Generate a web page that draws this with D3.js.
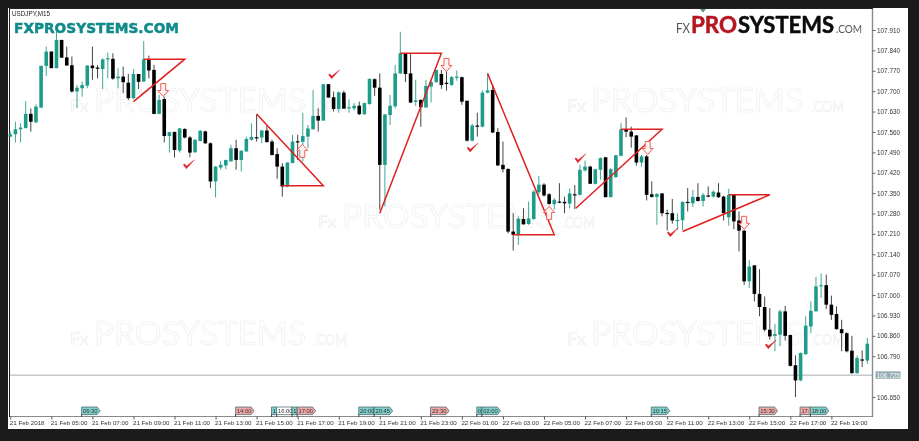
<!DOCTYPE html>
<html><head><meta charset="utf-8">
<script src="https://cdn.jsdelivr.net/npm/d3@7"></script>
<style>
html,body{margin:0;padding:0;background:#1b1b1b;width:919px;height:441px;overflow:hidden}
svg{display:block;filter:blur(0.3px)}
</style></head><body><svg id="c" width="919" height="441"></svg>
<script>
const opens=[107.544,107.552,107.569,107.573,107.622,107.593,107.644,107.787,107.836,107.779,
107.876,107.816,107.789,107.699,107.710,107.719,107.788,107.781,107.776,107.809,
107.811,107.744,107.750,107.729,107.676,107.759,107.733,107.807,107.773,107.622,
107.673,107.546,107.560,107.496,107.570,107.541,107.490,107.529,107.562,107.521,
107.390,107.438,107.445,107.459,107.504,107.464,107.493,107.533,107.542,107.541,
107.565,107.527,107.484,107.441,107.373,107.453,107.528,107.526,107.544,107.569,
107.615,107.599,107.724,107.679,107.639,107.695,107.641,107.641,107.650,107.621,
107.656,107.741,107.712,107.447,107.618,107.648,107.761,107.828,107.761,107.663,
107.670,107.644,107.716,107.731,107.759,107.729,107.721,107.747,107.748,107.667,
107.530,107.582,107.578,107.695,107.704,107.560,107.447,107.433,107.218,107.207,
107.261,107.244,107.261,107.353,107.379,107.346,107.312,107.321,107.320,107.314,
107.346,107.344,107.428,107.441,107.382,107.430,107.473,107.336,107.405,107.478,
107.569,107.561,107.548,107.455,107.476,107.346,107.337,107.349,107.282,107.281,
107.256,107.257,107.320,107.315,107.337,107.323,107.342,107.338,107.352,107.338,
107.267,107.344,107.256,107.221,107.047,107.102,107.004,106.959,106.881,106.860,
106.864,106.944,106.863,106.759,106.707,106.797,106.892,106.944,107.030,107.034,
106.967,106.935,106.883,106.869,106.809,106.732,106.779,106.775];
const closes=[107.552,107.569,107.575,107.622,107.595,107.647,107.787,107.836,107.779,107.876,
107.815,107.788,107.699,107.712,107.721,107.788,107.779,107.780,107.809,107.813,
107.743,107.750,107.731,107.676,107.759,107.732,107.809,107.771,107.622,107.670,
107.546,107.559,107.498,107.572,107.541,107.489,107.533,107.564,107.521,107.390,
107.441,107.447,107.464,107.504,107.464,107.495,107.536,107.543,107.541,107.565,
107.525,107.481,107.441,107.373,107.455,107.527,107.526,107.546,107.572,107.615,
107.599,107.724,107.678,107.639,107.696,107.640,107.645,107.650,107.621,107.659,
107.742,107.712,107.447,107.620,107.650,107.761,107.830,107.759,107.661,107.668,
107.645,107.718,107.731,107.773,107.721,107.727,107.748,107.750,107.664,107.530,
107.582,107.580,107.695,107.703,107.558,107.445,107.432,107.218,107.207,107.262,
107.243,107.263,107.355,107.379,107.342,107.313,107.327,107.319,107.315,107.349,
107.344,107.430,107.441,107.382,107.432,107.470,107.336,107.432,107.480,107.569,
107.561,107.544,107.455,107.476,107.344,107.337,107.347,107.281,107.280,107.256,
107.258,107.320,107.318,107.337,107.323,107.344,107.338,107.355,107.336,107.281,
107.344,107.253,107.221,107.047,107.098,107.004,106.959,106.881,106.858,106.866,
106.944,106.860,106.757,106.707,106.801,106.895,106.946,107.030,107.034,106.967,
106.932,106.883,106.869,106.807,106.732,106.784,106.776,106.833];
const highs=[107.561,107.595,107.590,107.666,107.641,107.655,107.787,107.853,107.836,107.904,
107.876,107.853,107.819,107.721,107.733,107.788,107.853,107.790,107.813,107.832,
107.830,107.779,107.784,107.759,107.776,107.759,107.872,107.822,107.790,107.687,
107.681,107.561,107.561,107.574,107.573,107.546,107.535,107.567,107.564,107.524,
107.443,107.461,107.464,107.516,107.533,107.498,107.544,107.590,107.621,107.567,
107.581,107.533,107.504,107.453,107.456,107.550,107.550,107.626,107.584,107.704,
107.641,107.724,107.724,107.699,107.699,107.702,107.672,107.659,107.664,107.661,
107.744,107.744,107.761,107.622,107.687,107.790,107.904,107.830,107.830,107.739,
107.672,107.739,107.741,107.773,107.773,107.773,107.752,107.771,107.750,107.667,
107.588,107.626,107.702,107.761,107.721,107.573,107.527,107.435,107.281,107.270,
107.298,107.321,107.361,107.409,107.384,107.350,107.333,107.384,107.338,107.367,
107.378,107.447,107.462,107.444,107.433,107.473,107.473,107.436,107.481,107.590,
107.610,107.578,107.550,107.481,107.481,107.390,107.350,107.350,107.293,107.330,
107.281,107.321,107.367,107.361,107.384,107.350,107.373,107.359,107.384,107.341,
107.365,107.346,107.287,107.224,107.121,107.102,107.089,106.995,106.955,106.901,
106.950,106.963,106.864,106.793,106.803,106.927,106.978,107.062,107.075,107.070,
106.998,106.961,106.915,106.872,106.860,106.792,106.810,106.853];
const lows=[107.542,107.524,107.524,107.573,107.561,107.590,107.641,107.752,107.779,107.779,
107.815,107.788,107.695,107.641,107.681,107.710,107.739,107.744,107.707,107.744,
107.739,107.710,107.693,107.670,107.672,107.707,107.733,107.744,107.621,107.621,
107.524,107.489,107.472,107.489,107.538,107.473,107.489,107.527,107.519,107.367,
107.335,107.430,107.432,107.458,107.430,107.424,107.493,107.530,107.527,107.521,
107.524,107.479,107.399,107.338,107.370,107.453,107.464,107.458,107.504,107.569,
107.561,107.599,107.678,107.630,107.626,107.640,107.626,107.633,107.618,107.618,
107.653,107.684,107.293,107.304,107.584,107.641,107.759,107.731,107.659,107.649,
107.578,107.644,107.661,107.729,107.708,107.702,107.719,107.736,107.653,107.527,
107.527,107.544,107.576,107.693,107.556,107.443,107.421,107.212,107.153,107.172,
107.241,107.241,107.258,107.344,107.338,107.310,107.293,107.315,107.281,107.298,
107.295,107.342,107.424,107.382,107.380,107.396,107.336,107.336,107.402,107.476,
107.542,107.506,107.444,107.441,107.325,107.335,107.241,107.270,107.222,107.245,
107.224,107.224,107.287,107.302,107.321,107.304,107.336,107.335,107.333,107.256,
107.238,107.226,107.150,107.035,107.024,106.978,106.927,106.875,106.847,106.807,
106.824,106.844,106.755,106.650,106.704,106.795,106.869,106.944,106.990,106.952,
106.915,106.881,106.807,106.803,106.730,106.730,106.753,106.764];

const priceTicks=[107.91,107.84,107.77,107.70,107.63,107.56,107.49,107.42,107.35,107.28,107.21,107.14,107.07,107.00,106.93,106.86,106.79,106.65];
const bidPrice=106.725;
const timeTickIdx=[0,8,16,24,32,40,48,56,64,72,80,88,96,104,112,120,128,136,144,152,160];
const timeTickLabels=["21 Feb 2018","21 Feb 05:00","21 Feb 07:00","21 Feb 09:00","21 Feb 11:00","21 Feb 13:00","21 Feb 15:00","21 Feb 17:00","21 Feb 19:00","21 Feb 21:00","21 Feb 23:00","22 Feb 01:00","22 Feb 03:00","22 Feb 05:00","22 Feb 07:00","22 Feb 09:00","22 Feb 11:00","22 Feb 13:00","22 Feb 15:00","22 Feb 17:00","22 Feb 19:00"];
const flagIdx=[14,44,51,52,55,56,68,71,82,91,92,125,146,154,156];
const flagText=["06:30","14:00","1","16:00","1","17:00","20:00","20:45","23:30","0","02:00","10:15","15:30","17:","18:00"];
const flagKind=["t","p","t","w","t","p","t","t","p","t","t","t","p","p","t"];
const flagCut=[0,0,1,1,1,0,1,0,0,1,0,0,0,1,0];
const triangles=[[[26,107.810],[34,107.810],[24,107.664]],[[48,107.622],[61,107.375],[53,107.375]],[[72,107.281],[84,107.830],[76,107.830]],[[93,107.761],[106,107.207],[98,107.207]],[[110.2,107.298],[127,107.569],[119,107.569]],[[131,107.218],[148,107.344],[140,107.344]]];
const arrowIdx=[29.8,56.9,85,105,124.2,143];
const arrowPrice=[107.704,107.495,107.790,107.282,107.505,107.248];
const arrowDir=[1,-1,1,-1,1,1];
const checkIdx=[34.7,63,90,111,129,148.1];
const checkPrice=[107.447,107.756,107.505,107.468,107.214,106.829];

const svg=d3.select("#c");
const plot={l:10,r:872.5,t:9,b:416.5};
const x=d3.scaleLinear().domain([0,167]).range([10.3,867.3]);
const y=d3.scaleLinear().domain([107.91,106.65]).range([30,397]);
const UP="#1e9c8a",DOWN="#000";

svg.append("rect").attr("x",8).attr("y",8).attr("width",900).attr("height",421).attr("fill","#fff");
svg.append("rect").attr("x",9.5).attr("y",8.5).attr("width",863).attr("height",408).attr("fill","#fff").attr("stroke","#222").attr("stroke-width",1);

// watermarks
const wm=[[70,112],[567,112],[318,228],[70,345],[567,345]];
wm.forEach(([a,b])=>{
  const g=svg.append("g").attr("transform",`translate(${a},${b})`).attr("font-family","Lato").attr("fill","#fefefe").attr("stroke","#efefef").attr("stroke-width",0.7);
  g.append("text").attr("x",0).attr("font-size",17).attr("textLength",19).attr("lengthAdjust","spacingAndGlyphs").text("Fx");
  g.append("text").attr("x",24).attr("font-size",32).attr("textLength",212).attr("lengthAdjust","spacingAndGlyphs").text("PROSYSTEMS");
  g.append("text").attr("x",244).attr("font-size",16).attr("textLength",33).attr("lengthAdjust","spacingAndGlyphs").text(".COM");
});

// bid line
svg.append("line").attr("x1",plot.l).attr("x2",plot.r).attr("y1",y(bidPrice)).attr("y2",y(bidPrice)).attr("stroke","#a4adb3").attr("stroke-width",1);

// candles
const idx=d3.range(opens.length);
const g=svg.append("g");
g.selectAll("line.w").data(idx).join("line").attr("class","w")
  .attr("x1",i=>x(i)).attr("x2",i=>x(i)).attr("y1",i=>y(highs[i])).attr("y2",i=>y(lows[i]))
  .attr("stroke",i=>closes[i]>=opens[i]?"#3fa898":"#444").attr("stroke-width",1);
g.selectAll("rect.b").data(idx).join("rect").attr("class","b")
  .attr("x",i=>x(i)-1.8).attr("width",3.6)
  .attr("y",i=>y(Math.max(opens[i],closes[i])))
  .attr("height",i=>Math.max(1.2,Math.abs(y(opens[i])-y(closes[i]))))
  .attr("fill",i=>closes[i]>=opens[i]?UP:DOWN);

// triangles
const ln=d3.line().x(d=>x(d[0])).y(d=>y(d[1]));
svg.selectAll("path.tri").data(triangles).join("path").attr("class","tri").attr("d",ln).attr("fill","none").attr("stroke","#e0201f").attr("stroke-width",1.5);

// arrows
arrowIdx.forEach((a,i)=>{
  const d=arrowDir[i];
  const p=d3.path();
  p.moveTo(-2.5,-6.5*d);p.lineTo(2.5,-6.5*d);p.lineTo(2.5,0.5*d);p.lineTo(5.5,0.5*d);p.lineTo(0,6.5*d);p.lineTo(-5.5,0.5*d);p.lineTo(-2.5,0.5*d);p.closePath();
  svg.append("path").attr("transform",`translate(${x(a)},${y(arrowPrice[i])})`).attr("d",p.toString()).attr("fill","#fff4f2").attr("stroke","#e8605a").attr("stroke-width",1);
});
// check marks
checkIdx.forEach((a,i)=>{
  const p=d3.path();
  p.moveTo(-5,0);p.lineTo(-2,4);p.lineTo(6,-5);p.lineTo(-1.8,1.2);p.lineTo(-4,-1);p.closePath();
  svg.append("path").attr("transform",`translate(${x(a)},${y(checkPrice[i])})`).attr("d",p.toString()).attr("fill","#de1f24").attr("stroke","#de1f24").attr("stroke-width",0.4);
});

// axes
const yAxis=d3.axisRight(y).tickValues(priceTicks).tickFormat(d3.format(".3f")).tickSize(3).tickPadding(1.5);
const ya=svg.append("g").attr("transform",`translate(${plot.r},0)`).call(yAxis);
ya.select(".domain").attr("d",`M0,${plot.t}V${plot.b}`).attr("stroke","#8a8a8a").attr("stroke-width",1.4);
ya.selectAll("line").attr("stroke","#666");
ya.selectAll("text").attr("font-family","Liberation Sans").attr("font-size",6.4).attr("fill","#333");

const xAxis=d3.axisBottom(x).tickValues(timeTickIdx).tickFormat((d,i)=>timeTickLabels[i]).tickSize(3).tickPadding(1.5);
const xa=svg.append("g").attr("transform",`translate(0,${plot.b})`).call(xAxis);
xa.select(".domain").attr("d",`M${plot.l},0H${plot.r}`).attr("stroke","#8a8a8a").attr("stroke-width",1);
xa.selectAll("line").attr("stroke","#555");
xa.selectAll("text").attr("font-family","Liberation Sans").attr("font-size",6.2).attr("fill","#333").attr("text-anchor","start").attr("dx",-1);

// bid tag
const tagY=y(bidPrice);
svg.append("rect").attr("x",875.5).attr("y",tagY-3.8).attr("width",25).attr("height",7.4).attr("fill","#94aab5");
svg.append("text").attr("x",876.7).attr("y",tagY+2.4).attr("font-family","Liberation Sans").attr("font-size",6.4).attr("fill","#fff").text(bidPrice.toFixed(3));

// flags
const FC={t:"#7fd0cc",p:"#f0a8a8",w:"#fff"};
flagIdx.forEach((a,i)=>{
  const fx=x(a)-0.5;
  const cut=flagCut[i];
  const w=cut?x(flagIdx[i+1])-x(a):18.5;
  const p=d3.path();
  if(cut){p.rect(0,0,w,7.6);}
  else{p.moveTo(0,0);p.lineTo(w-3,0);p.lineTo(w,3.8);p.lineTo(w-3,7.6);p.lineTo(0,7.6);p.closePath();}
  const f=svg.append("g").attr("transform",`translate(${fx},407)`);
  f.append("line").attr("x1",0).attr("x2",0).attr("y1",7).attr("y2",10).attr("stroke","#444");
  f.append("path").attr("d",p.toString()).attr("fill",FC[flagKind[i]]).attr("stroke","#3d5f62").attr("stroke-width",0.7);
  f.append("text").attr("x",1.3).attr("y",6).attr("font-family","Liberation Sans").attr("font-size",5.8).attr("fill","#333").text(flagText[i]);
});

// small markers
svg.append("path").attr("d",d3.line()([[700,9],[706,9],[703,12.5]])).attr("fill","#5f8f90");

// title + logos
svg.append("text").attr("x",12).attr("y",16.2).attr("font-family","Liberation Sans").attr("font-size",6.3).attr("fill","#222").text("USDJPY,M15");
svg.append("text").attr("x",14).attr("y",32.5).attr("font-family","DejaVu Sans").attr("font-weight",700).attr("font-size",14).attr("fill","#108a8a").attr("stroke","#108a8a").attr("stroke-width",0.5).attr("textLength",165).attr("lengthAdjust","spacingAndGlyphs").text("FXPROSYSTEMS.COM");
const logo=svg.append("g").attr("font-family","Lato");
logo.append("text").attr("x",676).attr("y",33).attr("font-size",13).attr("fill","#555").attr("textLength",14).attr("lengthAdjust","spacingAndGlyphs").text("FX");
logo.append("text").attr("x",691).attr("y",33).attr("font-size",22).attr("font-weight",700).attr("fill","#b5161f").attr("stroke","#b5161f").attr("stroke-width",0.5).attr("textLength",46).attr("lengthAdjust","spacingAndGlyphs").text("PRO");
logo.append("text").attr("x",738).attr("y",33).attr("font-size",22).attr("font-weight",700).attr("fill","#0b0b0b").attr("stroke","#0b0b0b").attr("stroke-width",0.5).attr("textLength",96).attr("lengthAdjust","spacingAndGlyphs").text("SYSTEMS");
logo.append("text").attr("x",836).attr("y",33).attr("font-size",11).attr("fill","#555").attr("textLength",26).attr("lengthAdjust","spacingAndGlyphs").text(".COM");
</script></body></html>
